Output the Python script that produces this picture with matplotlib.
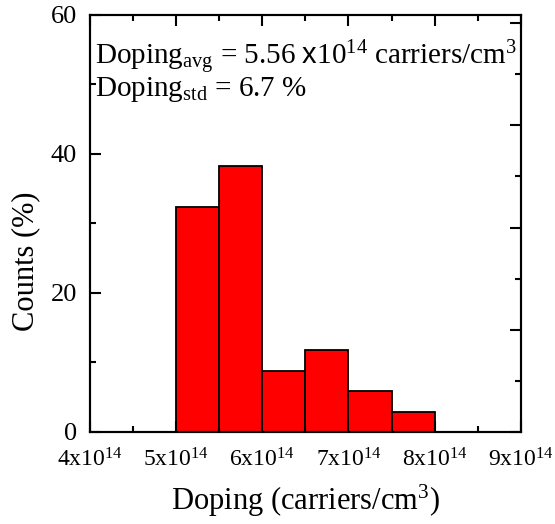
import numpy as np
import matplotlib
matplotlib.use('Agg')
import matplotlib.pyplot as plt
from matplotlib.ticker import MultipleLocator, FixedLocator, FixedFormatter

plt.rcParams['font.family'] = ['Liberation Serif', 'DejaVu Serif']
plt.rcParams['mathtext.fontset'] = 'custom'
plt.rcParams['mathtext.rm'] = 'Liberation Serif'
plt.rcParams['mathtext.it'] = 'Liberation Serif:italic'
plt.rcParams['mathtext.sf'] = 'Liberation Sans'

# histogram bins (carriers/cm^3) and counts per bin
bin_edges = [5.0e14, 5.5e14, 6.0e14, 6.5e14, 7.0e14, 7.5e14, 8.0e14]
counts = [11, 13, 3, 4, 2, 1]
n_total = 34
x_ticks = [4e14, 5e14, 6e14, 7e14, 8e14, 9e14]
x_ticklabels = [r'4x10$^{14}$', r'5x10$^{14}$', r'6x10$^{14}$',
                r'7x10$^{14}$', r'8x10$^{14}$', r'9x10$^{14}$']

percent = [c / n_total * 100 for c in counts]
lefts = bin_edges[:-1]
widths = [bin_edges[i + 1] - bin_edges[i] for i in range(len(lefts))]

fig = plt.figure(figsize=(5.55, 5.24), dpi=100)
ax = fig.add_axes([0.1613, 0.1756, 0.7775, 0.7958])

ax.bar(lefts, percent, width=widths, align='edge', color='#ff0000',
       edgecolor='black', linewidth=1.3)

ax.set_xlim(4e14, 9e14)
ax.set_ylim(0, 60)
ax.xaxis.set_major_locator(FixedLocator(x_ticks))
ax.xaxis.set_major_formatter(FixedFormatter(x_ticklabels))
ax.xaxis.set_minor_locator(FixedLocator([4.5e14, 5.5e14, 6.5e14, 7.5e14, 8.5e14]))
ax.yaxis.set_major_locator(MultipleLocator(20))
ax.yaxis.set_minor_locator(MultipleLocator(10))

ax.tick_params(which='both', direction='in', top=True, right=False, width=1.5)
ax.tick_params(axis='x', labelsize=17, pad=12)
ax.tick_params(axis='y', labelsize=19, pad=9)
ax.tick_params(which='major', length=8)
ax.tick_params(which='minor', length=4.5)
for s in ax.spines.values():
    s.set_linewidth(1.5)

# right axis in absolute counts, no labels
ax2 = ax.twinx()
ax2.set_ylim(0, 60 * n_total / 100)
ax2.yaxis.set_major_locator(MultipleLocator(5))
ax2.yaxis.set_minor_locator(MultipleLocator(2.5))
ax2.tick_params(which='both', direction='in', labelright=False, width=1.5)
ax2.tick_params(which='major', length=8)
ax2.tick_params(which='minor', length=4.5)
for s in ax2.spines.values():
    s.set_linewidth(1.5)

ax.set_xlabel(r'Doping (carriers/cm$^3$)', fontsize=22)
ax.xaxis.set_label_coords(0.5, -0.122)
ax.set_ylabel('Counts (%)', fontsize=22)
ax.yaxis.set_label_coords(-0.115, 0.41)

ax.text(0.012, 0.897, r'Doping$_{\rm avg}$ = 5.56 $\mathsf{x}$10$^{14}$ carriers/cm$^3$',
        transform=ax.transAxes, fontsize=21, va='center', ha='left')
ax.text(0.012, 0.822, r'Doping$_{\rm std}$ = 6.7 %',
        transform=ax.transAxes, fontsize=21, va='center', ha='left')

fig.savefig('out.png', dpi=100)
